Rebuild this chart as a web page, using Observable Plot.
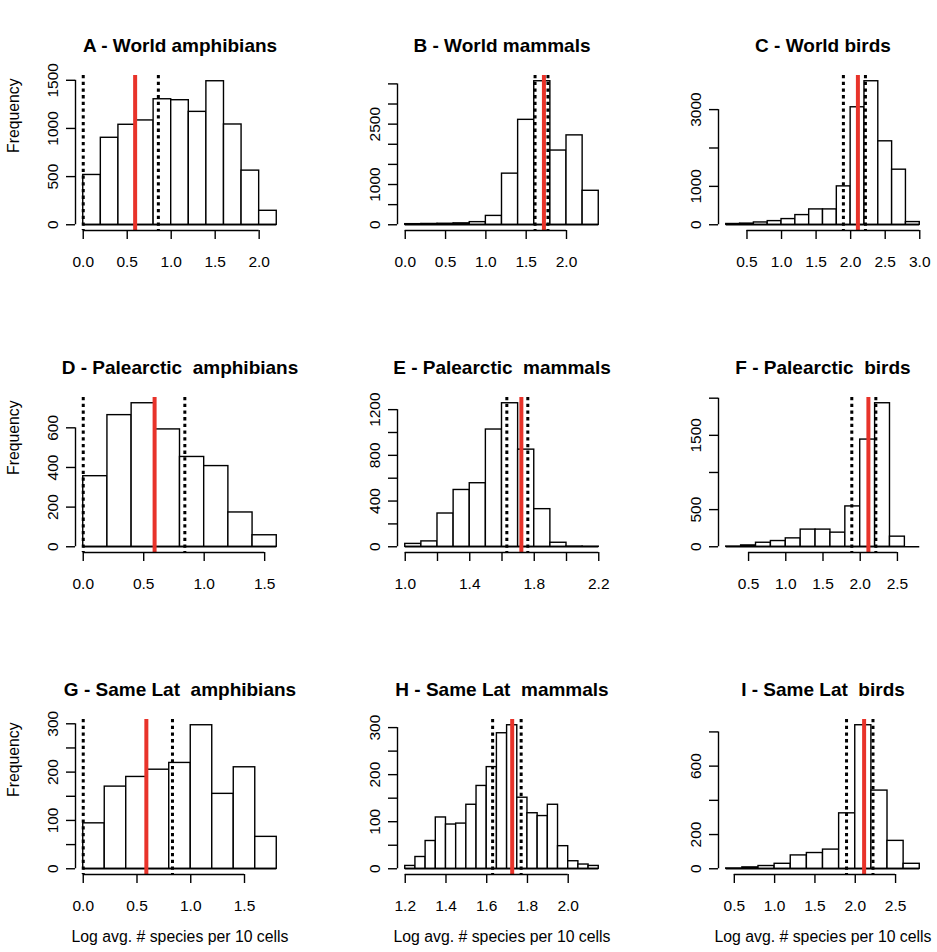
<!DOCTYPE html>
<html><head><meta charset="utf-8">
<script src="https://cdn.jsdelivr.net/npm/d3@7"></script>
<script src="https://cdn.jsdelivr.net/npm/@observablehq/plot@0.6"></script>
<style>
body{margin:0;background:#fff;}
#chart{position:relative;width:937px;height:952px;background:#fff;}
.panel{position:absolute;width:294px;height:308px;}
#chart text{white-space:pre;}
</style></head><body><div id="chart"></div>
<script>
const titles = ["A - World amphibians","B - World mammals","C - World birds",
  "D - Palearctic  amphibians","E - Palearctic  mammals","F - Palearctic  birds",
  "G - Same Lat  amphibians","H - Same Lat  mammals","I - Same Lat  birds"];
const xAxisLabel = "Log avg. # species per 10 cells";
const yAxisLabel = "Frequency";

// histogram bins: first break and bin width per panel
const binStart = [0.0, 0.0, 0.2, 0.0, 1.0, 0.2, 0.0, 1.2, 0.4];
const binWidth = [0.2, 0.2, 0.2, 0.2, 0.1, 0.2, 0.2, 0.05, 0.2];

const countsA = [517, 903, 1038, 1083, 1303, 1293, 1172, 1490, 1041, 562, 145];
const countsB = [15, 20, 25, 35, 65, 220, 1270, 2607, 3566, 1844, 2221, 844];
const countsC = [20, 30, 60, 95, 148, 252, 400, 400, 1000, 3061, 3739, 2174, 1435, 70];
const countsD = [356, 664, 724, 592, 453, 407, 173, 58];
const countsE = [25, 47, 291, 497, 556, 1026, 1256, 850, 329, 35, 2, 1];
const countsF = [3, 18, 54, 77, 113, 231, 231, 190, 543, 1443, 1932, 136, 0];
const countsG = [94, 170, 190, 205, 219, 297, 155, 210, 66];
const countsH = [6, 25, 59, 109, 94, 96, 136, 176, 216, 288, 305, 151, 118, 112, 136, 48, 16, 9, 6];
const countsI = [2, 8, 16, 29, 78, 92, 112, 324, 839, 457, 163, 29];
const allCounts = [countsA, countsB, countsC, countsD, countsE, countsF, countsG, countsH, countsI];

// red (observed) lines and dotted (interval) lines
const redLines = [0.59, 1.72, 2.105, 0.59, 1.72, 2.11, 0.587, 1.725, 2.11];
const dottedLines = [[0, 0.854], [1.61, 1.77], [1.895, 2.214], [0, 0.84], [1.63, 1.76], [1.887, 2.21], [0, 0.83], [1.629, 1.769], [1.892, 2.22]];

// axis ticks and the labels shown on them
const xTicks = [[0, 0.5, 1, 1.5, 2], [0, 0.5, 1, 1.5, 2], [0.5, 1, 1.5, 2, 2.5, 3],
  [0, 0.5, 1, 1.5], [1.0, 1.2, 1.4, 1.6, 1.8, 2.0, 2.2], [0.5, 1, 1.5, 2, 2.5],
  [0, 0.5, 1, 1.5], [1.2, 1.4, 1.6, 1.8, 2.0], [0.5, 1, 1.5, 2, 2.5]];
const xLabels = [[0, 0.5, 1, 1.5, 2], [0, 0.5, 1, 1.5, 2], [0.5, 1, 1.5, 2, 2.5, 3],
  [0, 0.5, 1, 1.5], [1.0, 1.4, 1.8, 2.2], [0.5, 1, 1.5, 2, 2.5],
  [0, 0.5, 1, 1.5], [1.2, 1.4, 1.6, 1.8, 2.0], [0.5, 1, 1.5, 2, 2.5]];
const yTicks = [[0, 500, 1000, 1500], [0, 500, 1000, 1500, 2000, 2500, 3000, 3500], [0, 1000, 2000, 3000],
  [0, 200, 400, 600], [0, 200, 400, 600, 800, 1000, 1200], [0, 500, 1000, 1500, 2000],
  [0, 50, 100, 150, 200, 250, 300], [0, 50, 100, 150, 200, 250, 300], [0, 200, 400, 600, 800]];
const yLabels = [[0, 500, 1000, 1500], [0, 1000, 2500], [0, 1000, 3000],
  [0, 200, 400, 600], [0, 400, 800, 1200], [0, 500, 1500],
  [0, 100, 200, 300], [0, 100, 200, 300], [0, 200, 600]];

const colLeft = [0, 322, 643];
const rowTop = [0, 322, 644];
const FONT = '"Liberation Sans", Arial, Helvetica, sans-serif';
const RED = "#e8332a";

const chart = document.getElementById("chart");

allCounts.forEach((counts, i) => {
  const row = Math.floor(i / 3), col = i % 3;
  const bins = counts.map((c, k) => ({
    x1: +(binStart[i] + k * binWidth[i]).toFixed(4),
    x2: +(binStart[i] + (k + 1) * binWidth[i]).toFixed(4),
    count: c
  }));
  const b0 = bins[0].x1, bN = bins[bins.length - 1].x2;
  const pad = (bN - b0) * 0.04;
  const M = d3.max(counts);
  const yLo = -0.04 * M, yHi = 1.04 * M;
  const xT = xTicks[i], yT = yTicks[i], xL = xLabels[i], yL = yLabels[i];

  const marks = [
    Plot.rectY(bins, {x1: "x1", x2: "x2", y: "count", fill: "white", stroke: "black", strokeWidth: 1.4}),
    Plot.ruleY([{y: 0, x1: b0, x2: bN}], {y: "y", x1: "x1", x2: "x2", stroke: "black", strokeWidth: 1.4}),
    Plot.ruleX(dottedLines[i], {stroke: "black", strokeWidth: 3, strokeDasharray: "3.3,3.4"}),
    Plot.ruleX([redLines[i]], {stroke: RED, strokeWidth: 4}),
    // y axis (R style, detached at plot-region edge)
    Plot.ruleX([{x: b0 - pad, y1: yT[0], y2: yT[yT.length - 1]}], {x: "x", y1: "y1", y2: "y2", stroke: "black", strokeWidth: 1.4}),
    Plot.axisY({ticks: yT, tickSize: 9, tickPadding: 9, tickRotate: -90, label: null, strokeWidth: 1.4,
      tickFormat: d => yL.includes(d) ? String(d) : ""}),
    // x axis
    Plot.ruleY([{y: yLo, x1: xT[0], x2: xT[xT.length - 1]}], {y: "y", x1: "x1", x2: "x2", stroke: "black", strokeWidth: 1.4}),
    Plot.axisX({ticks: xT, tickSize: 9, tickPadding: 16, label: null, strokeWidth: 1.4,
      tickFormat: d => xL.some(v => Math.abs(v - d) < 1e-9) ? d.toFixed(1) : ""}),
    Plot.text([titles[i]], {frameAnchor: "top", dy: -24, lineAnchor: "bottom", fontSize: 19, fontWeight: "bold", fill: "black"})
  ];
  if (col === 0) marks.push(Plot.text([yAxisLabel], {frameAnchor: "left", dx: -62, rotate: -90, fontSize: 15.8, fill: "black"}));
  if (row === 2) marks.push(Plot.text([xAxisLabel], {frameAnchor: "bottom", dy: 67, fontSize: 15.8, fill: "black"}));

  const svg = Plot.plot({
    width: 294, height: 308,
    marginLeft: 75, marginRight: 10, marginTop: 75, marginBottom: 78,
    style: {fontFamily: FONT, fontSize: "15.5px", color: "black", background: "transparent", overflow: "visible"},
    x: {domain: [b0 - pad, bN + pad]},
    y: {domain: [yLo, yHi]},
    marks
  });
  const div = document.createElement("div");
  div.className = "panel";
  div.style.left = colLeft[col] + "px";
  div.style.top = rowTop[row] + "px";
  div.appendChild(svg);
  chart.appendChild(div);
});
</script>
</body></html>
